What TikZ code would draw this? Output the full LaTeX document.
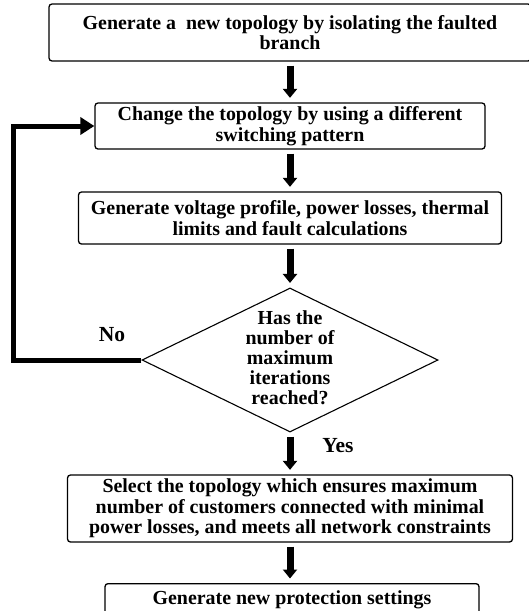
\documentclass[tikz,border=0pt]{standalone}
\usepackage{fontspec}
\setmainfont{Liberation Serif}
\usetikzlibrary{shapes.geometric,arrows.meta}
\begin{document}
\begin{tikzpicture}[x=1pt,y=-1pt,
  box/.style={draw,line width=1.3pt,rounded corners=3pt,inner sep=0pt,align=center,
    font=\fontsize{19.9}{20.5}\selectfont\bfseries},
  dia/.style={draw,diamond,line width=1.1pt,inner sep=0pt,minimum width=296pt,minimum height=144pt},
  dtext/.style={align=center,inner sep=0pt,font=\fontsize{19.9}{20}\selectfont\bfseries},
  lbl/.style={inner sep=0pt,font=\fontsize{21.5}{24}\selectfont\bfseries},
  down/.style={line width=7pt,-{Triangle[width=14pt,length=9pt]},shorten <=4pt,shorten >=4.5pt},
  back/.style={line width=5pt,line join=miter,-{Triangle[width=17pt,length=14pt]}}]
\useasboundingbox (0,0) rectangle (528,611);
\node[box,minimum width=482pt,minimum height=57pt] (b1) at (290,32.5) {Generate a\ \ new topology by isolating the faulted\\branch};
\node[box,minimum width=390pt,minimum height=46pt] (b2) at (290,126) {Change the topology by using a different\\switching pattern};
\node[box,minimum width=423pt,minimum height=52pt] (b3) at (290,218) {Generate voltage profile, power losses, thermal\\limits and fault calculations};
\node[dia] (d) at (290,360) {};
\node[dtext] at (290,358) {Has the\\number of\\maximum\\iterations\\reached?};
\node[box,minimum width=445pt,minimum height=67pt] (b5) at (290,508.5) {Select the topology which ensures maximum\\number of customers connected with minimal\\power losses, and meets all network constraints};
\node[box,minimum width=374pt,minimum height=32pt,anchor=north] (b6) at (292,583) {Generate new protection settings};
\node[lbl] at (112,335) {No};
\node[lbl] at (338,446) {Yes};
\coordinate (lc) at (13,360);
\draw[down] (b1.south) -- (b2.north);
\draw[down] (b2.south) -- (b3.north);
\draw[down] (b3.south) -- (d.north);
\draw[down] (d.south) -- (b5.north);
\draw[down] (b5.south) -- (b5.south |- b6.north);
\draw[back] (d.west) -- (lc) |- (b2.west);
\end{tikzpicture}
\end{document}
